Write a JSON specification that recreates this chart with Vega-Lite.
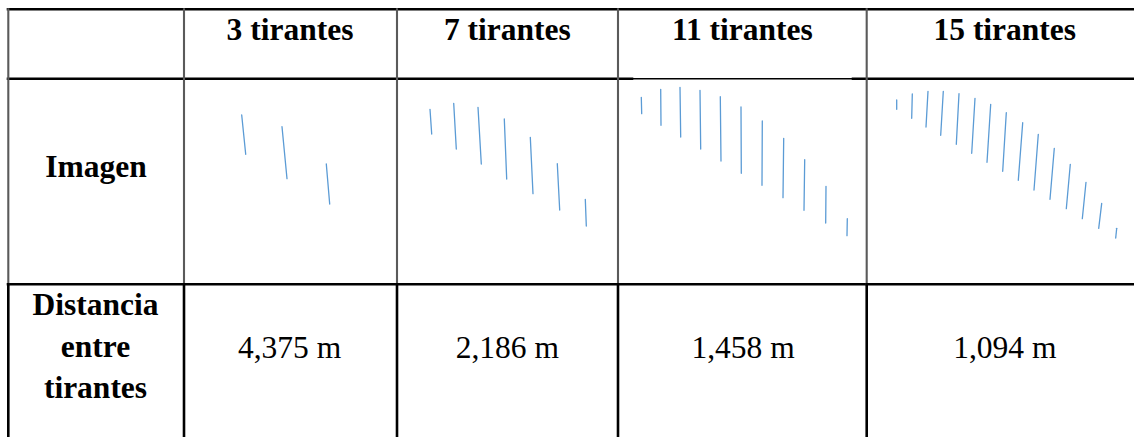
{
  "$schema": "https://vega.github.io/schema/vega-lite/v6.json",
  "width": 1134,
  "height": 437,
  "padding": 0,
  "autosize": "none",
  "background": "white",
  "config": {"view": {"stroke": null}},
  "datasets": {
    "grid": [
      {"x": 8, "x2": 1134, "y": 9.3, "y2": 9.3, "kind": "border"},
      {"x": 8, "x2": 632, "y": 78.8, "y2": 78.8, "kind": "border"},
      {"x": 632, "x2": 853, "y": 78.8, "y2": 78.8, "kind": "thin"},
      {"x": 853, "x2": 1134, "y": 78.8, "y2": 78.8, "kind": "border"},
      {"x": 8, "x2": 1134, "y": 284.3, "y2": 284.3, "kind": "border"},
      {"x": 8.3, "x2": 8.3, "y": 9.3, "y2": 284.3, "kind": "inner"},
      {"x": 184, "x2": 184, "y": 9.3, "y2": 284.3, "kind": "inner"},
      {"x": 397, "x2": 397, "y": 9.3, "y2": 284.3, "kind": "inner"},
      {"x": 618, "x2": 618, "y": 9.3, "y2": 284.3, "kind": "inner"},
      {"x": 866.7, "x2": 866.7, "y": 9.3, "y2": 284.3, "kind": "inner"},
      {"x": 8.3, "x2": 8.3, "y": 284.3, "y2": 437, "kind": "border"},
      {"x": 184, "x2": 184, "y": 284.3, "y2": 437, "kind": "border"},
      {"x": 397, "x2": 397, "y": 284.3, "y2": 437, "kind": "border"},
      {"x": 618, "x2": 618, "y": 284.3, "y2": 437, "kind": "border"},
      {"x": 866.7, "x2": 866.7, "y": 284.3, "y2": 437, "kind": "border"}
    ],
    "cables": [
      {"config": "3 tirantes", "x": 241.7, "y": 115, "x2": 245.7, "y2": 154.3},
      {"config": "3 tirantes", "x": 282, "y": 126.7, "x2": 287, "y2": 178.7},
      {"config": "3 tirantes", "x": 326.3, "y": 164, "x2": 329.7, "y2": 204},
      {"config": "7 tirantes", "x": 430, "y": 109.3, "x2": 431.7, "y2": 134},
      {"config": "7 tirantes", "x": 453.7, "y": 103.3, "x2": 456.3, "y2": 149},
      {"config": "7 tirantes", "x": 478, "y": 107.3, "x2": 481.3, "y2": 164},
      {"config": "7 tirantes", "x": 504.3, "y": 119, "x2": 506.7, "y2": 179},
      {"config": "7 tirantes", "x": 530.3, "y": 137.3, "x2": 533, "y2": 193.7},
      {"config": "7 tirantes", "x": 557.3, "y": 163.7, "x2": 559.7, "y2": 210},
      {"config": "7 tirantes", "x": 585.3, "y": 199.3, "x2": 586.3, "y2": 226},
      {"config": "11 tirantes", "x": 641.3, "y": 97.3, "x2": 641.7, "y2": 113.7},
      {"config": "11 tirantes", "x": 660.7, "y": 89.3, "x2": 661, "y2": 125.3},
      {"config": "11 tirantes", "x": 680, "y": 87.3, "x2": 680.7, "y2": 137},
      {"config": "11 tirantes", "x": 700, "y": 90.3, "x2": 700.7, "y2": 149},
      {"config": "11 tirantes", "x": 720.3, "y": 96.7, "x2": 721, "y2": 161},
      {"config": "11 tirantes", "x": 741, "y": 107, "x2": 741.3, "y2": 173.3},
      {"config": "11 tirantes", "x": 762.3, "y": 121, "x2": 762, "y2": 185.3},
      {"config": "11 tirantes", "x": 783.7, "y": 138.3, "x2": 783, "y2": 197.7},
      {"config": "11 tirantes", "x": 804.7, "y": 159.7, "x2": 804, "y2": 210.3},
      {"config": "11 tirantes", "x": 826, "y": 186.3, "x2": 825.7, "y2": 223},
      {"config": "11 tirantes", "x": 847.3, "y": 218.7, "x2": 847, "y2": 235.7},
      {"config": "15 tirantes", "x": 896.7, "y": 100, "x2": 896.7, "y2": 109.3},
      {"config": "15 tirantes", "x": 912.3, "y": 94, "x2": 911.7, "y2": 118.3},
      {"config": "15 tirantes", "x": 928, "y": 91.3, "x2": 926, "y2": 127},
      {"config": "15 tirantes", "x": 943.3, "y": 91.3, "x2": 940.7, "y2": 135.3},
      {"config": "15 tirantes", "x": 959, "y": 93.7, "x2": 956.3, "y2": 144.3},
      {"config": "15 tirantes", "x": 975, "y": 98.3, "x2": 971.7, "y2": 153.3},
      {"config": "15 tirantes", "x": 990.7, "y": 104.3, "x2": 987, "y2": 162.3},
      {"config": "15 tirantes", "x": 1006.3, "y": 112.7, "x2": 1002.7, "y2": 171.3},
      {"config": "15 tirantes", "x": 1022.7, "y": 122.7, "x2": 1018.3, "y2": 180.3},
      {"config": "15 tirantes", "x": 1038.3, "y": 134.3, "x2": 1034, "y2": 190},
      {"config": "15 tirantes", "x": 1054.3, "y": 148.3, "x2": 1050, "y2": 199.3},
      {"config": "15 tirantes", "x": 1070.3, "y": 164.3, "x2": 1066.3, "y2": 208.7},
      {"config": "15 tirantes", "x": 1086, "y": 182.3, "x2": 1082.3, "y2": 218.7},
      {"config": "15 tirantes", "x": 1101.7, "y": 203.3, "x2": 1098.7, "y2": 228.3},
      {"config": "15 tirantes", "x": 1116.7, "y": 228.3, "x2": 1115.7, "y2": 238}
    ],
    "labels": [
      {"text": "3 tirantes", "x": 290, "y": 39.5, "weight": "bold"},
      {"text": "7 tirantes", "x": 507.3, "y": 39.5, "weight": "bold"},
      {"text": "11 tirantes", "x": 742.3, "y": 39.5, "weight": "bold"},
      {"text": "15 tirantes", "x": 1004.8, "y": 39.5, "weight": "bold"},
      {"text": "Imagen", "x": 96, "y": 177.3, "weight": "bold"},
      {"text": "Distancia", "x": 95.5, "y": 315, "weight": "bold"},
      {"text": "entre", "x": 95.5, "y": 356.7, "weight": "bold"},
      {"text": "tirantes", "x": 95.5, "y": 398.3, "weight": "bold"},
      {"text": "4,375 m", "x": 289.5, "y": 357.5, "weight": "normal"},
      {"text": "2,186 m", "x": 507.3, "y": 357.5, "weight": "normal"},
      {"text": "1,458 m", "x": 743, "y": 357.5, "weight": "normal"},
      {"text": "1,094 m", "x": 1004.8, "y": 357.5, "weight": "normal"}
    ]
  },
  "layer": [
    {
      "data": {"name": "grid"},
      "mark": {"type": "rule", "strokeCap": "square"},
      "encoding": {
        "x": {"field": "x", "type": "quantitative", "scale": {"domain": [0, 1134], "nice": false, "zero": false}, "axis": null},
        "x2": {"field": "x2"},
        "y": {"field": "y", "type": "quantitative", "scale": {"domain": [437, 0], "nice": false, "zero": false}, "axis": null},
        "y2": {"field": "y2"},
        "color": {"field": "kind", "type": "nominal", "scale": {"domain": ["border", "inner", "thin"], "range": ["#000000", "#5a5a5a", "#000000"]}, "legend": null},
        "size": {"field": "kind", "type": "nominal", "scale": {"domain": ["border", "inner", "thin"], "range": [2.6, 1.6, 1.2]}, "legend": null}
      }
    },
    {
      "data": {"name": "cables"},
      "mark": {"type": "rule", "color": "#5b9bd5", "strokeWidth": 1.3, "strokeCap": "round"},
      "encoding": {
        "x": {"field": "x", "type": "quantitative", "axis": null},
        "x2": {"field": "x2"},
        "y": {"field": "y", "type": "quantitative", "axis": null},
        "y2": {"field": "y2"}
      }
    },
    {
      "data": {"name": "labels"},
      "transform": [{"filter": "datum.weight === 'bold'"}],
      "mark": {"type": "text", "font": "Liberation Serif", "fontSize": 31.5, "fontWeight": "bold", "align": "center", "baseline": "alphabetic", "color": "#000000"},
      "encoding": {
        "x": {"field": "x", "type": "quantitative", "axis": null},
        "y": {"field": "y", "type": "quantitative", "axis": null},
        "text": {"field": "text", "type": "nominal"}
      }
    },
    {
      "data": {"name": "labels"},
      "transform": [{"filter": "datum.weight === 'normal'"}],
      "mark": {"type": "text", "font": "Liberation Serif", "fontSize": 31.5, "fontWeight": "normal", "align": "center", "baseline": "alphabetic", "color": "#000000"},
      "encoding": {
        "x": {"field": "x", "type": "quantitative", "axis": null},
        "y": {"field": "y", "type": "quantitative", "axis": null},
        "text": {"field": "text", "type": "nominal"}
      }
    }
  ]
}
